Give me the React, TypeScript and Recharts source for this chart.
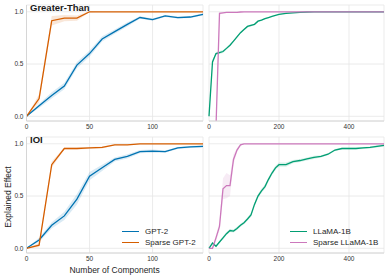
import React from "react";
import { ComposedChart, Line, Area, XAxis, YAxis, CartesianGrid } from "recharts";

// component counts
const gptSteps = [0, 10, 20, 30, 40, 50, 60, 70, 80, 90, 100, 110, 120, 130, 140];
const llamaSteps = [
  0, 10, 20, 30, 40, 50, 60, 70, 80, 90, 100, 110, 120, 130, 140, 150, 160, 170, 180, 190, 200,
  220, 240, 260, 280, 300, 320, 340, 360, 380, 400, 420, 440, 460, 480, 500,
];

// Greater-Than
const gtGpt2 = [0, 0.1, 0.2, 0.29, 0.49, 0.6, 0.74, 0.81, 0.88, 0.945, 0.925, 0.96, 0.945, 0.95, 0.975];
const gtGpt2Err = [0, 0.02, 0.03, 0.03, 0.03, 0.03, 0.025, 0.02, 0.02, 0.012, 0.01, 0.01, 0.01, 0.01, 0.01];
const gtSparseGpt2 = [0, 0.17, 0.915, 0.94, 0.94, 1, 1, 1, 1, 1, 1, 1, 1, 1, 1];
const gtSparseGpt2Err = [0, 0.04, 0.045, 0.03, 0.025, 0.005, 0, 0, 0, 0, 0, 0, 0, 0, 0];
const gtLlama = [
  0, 0.52, 0.6, 0.61, 0.62, 0.65, 0.68, 0.72, 0.76, 0.8, 0.83, 0.86, 0.87, 0.88, 0.91, 0.92, 0.935, 0.945, 0.955, 0.965, 0.975,
  0.985, 0.99, 0.995, 0.998, 1, 1, 1, 1, 1, 1, 1, 1, 1, 1, 1,
];
const gtLlamaErr = [
  0, 0.02, 0.015, 0.015, 0.015, 0.012, 0.012, 0.01, 0.01, 0.01, 0.01, 0.01, 0.01, 0.008, 0.008, 0.006, 0.006, 0.005, 0.005, 0.004, 0.004,
  0.003, 0.002, 0.002, 0, 0, 0, 0, 0, 0, 0, 0, 0, 0, 0, 0,
];
const gtSparseLlama = [
  -0.5, -0.4, -0.1, 0.985, 0.99, 0.995, 0.995, 0.995, 0.995, 0.998, 1, 1, 1, 1, 1, 1, 1, 1, 1, 1, 1,
  1, 1, 1, 1, 1, 1, 1, 1, 1, 1, 1, 1, 1, 1, 1,
];
const gtSparseLlamaErr = [
  0, 0.05, 0.06, 0.01, 0.005, 0.003, 0, 0, 0, 0, 0, 0, 0, 0, 0, 0, 0, 0, 0, 0, 0,
  0, 0, 0, 0, 0, 0, 0, 0, 0, 0, 0, 0, 0, 0, 0,
];

// IOI
const ioiGpt2 = [0, 0.08, 0.22, 0.31, 0.47, 0.69, 0.77, 0.85, 0.88, 0.925, 0.93, 0.925, 0.96, 0.97, 0.975];
const ioiGpt2Err = [0, 0.02, 0.03, 0.04, 0.05, 0.04, 0.03, 0.02, 0.02, 0.015, 0.015, 0.01, 0.01, 0.01, 0.01];
const ioiSparseGpt2 = [0, 0.03, 0.8, 0.955, 0.955, 0.96, 0.965, 0.99, 0.99, 1, 1, 1, 1, 1, 1];
const ioiSparseGpt2Err = [0, 0.02, 0.03, 0.01, 0.01, 0.01, 0.01, 0.005, 0.005, 0, 0, 0, 0, 0, 0];
const ioiLlama = [
  0, 0.05, 0.02, 0.06, 0.1, 0.14, 0.17, 0.165, 0.19, 0.22, 0.245, 0.28, 0.32, 0.42, 0.5, 0.55, 0.59, 0.66, 0.72, 0.77, 0.8,
  0.8, 0.83, 0.84, 0.855, 0.87, 0.88, 0.9, 0.94, 0.955, 0.955, 0.955, 0.96, 0.965, 0.975, 0.985,
];
const ioiLlamaErr = [
  0, 0.01, 0.01, 0.01, 0.015, 0.015, 0.015, 0.015, 0.015, 0.015, 0.015, 0.015, 0.02, 0.02, 0.02, 0.02, 0.02, 0.02, 0.02, 0.02, 0.02,
  0.02, 0.015, 0.015, 0.015, 0.015, 0.01, 0.01, 0.01, 0.01, 0.01, 0.01, 0.01, 0.01, 0.01, 0.01,
];
const ioiSparseLlama = [
  0, 0, 0.1, 0.21, 0.57, 0.6, 0.6, 0.85, 0.94, 0.99, 1, 1, 1, 1, 1, 1, 1, 1, 1, 1, 1,
  1, 1, 1, 1, 1, 1, 1, 1, 1, 1, 1, 1, 1, 1, 1,
];
const ioiSparseLlamaErr = [
  0, 0.01, 0.03, 0.04, 0.1, 0.12, 0.1, 0.05, 0.02, 0.01, 0, 0, 0, 0, 0, 0, 0, 0, 0, 0, 0,
  0, 0, 0, 0, 0, 0, 0, 0, 0, 0, 0, 0, 0, 0, 0,
];

const yTicks = [0, 0.5, 1];
const gptTicks = [0, 50, 100];
const llamaTicks = [0, 200, 400];

const BLUE = "#0173b2";
const ORANGE = "#d55e00";
const GREEN = "#029e73";
const PINK = "#cc78bc";
const FONT = "'Liberation Sans', Arial, sans-serif";

function rows(xs: number[], a: number[], aErr: number[], b: number[], bErr: number[]) {
  return xs.map((x, i) => ({
    x,
    a: a[i],
    aBand: [a[i] - aErr[i], a[i] + aErr[i]],
    b: b[i],
    bBand: [b[i] - bErr[i], b[i] + bErr[i]],
  }));
}

type PanelProps = {
  data: any[];
  left: number;
  top: number;
  width: number;
  xMax: number;
  xTicks: number[];
  colorA: string;
  colorB: string;
  showY: boolean;
  title: string;
};

function Panel({ data, left, top, width, xMax, xTicks, colorA, colorB, showY, title }: PanelProps) {
  const tick = { fontSize: 6.5, fill: "#333", fontFamily: FONT };
  return (
    <div style={{ position: "absolute", left, top, width, height: 135 }}>
      <ComposedChart
        width={width}
        height={135}
        data={data}
        margin={{ top: 5, right: showY ? 2 : 4, bottom: 0, left: showY ? 0 : 9 }}
      >
        <CartesianGrid stroke="#e6e6e6" strokeWidth={0.8} />
        <XAxis
          type="number"
          dataKey="x"
          domain={[0, xMax]}
          ticks={xTicks}
          height={14}
          tickSize={0}
          tickMargin={3}
          tick={tick}
          axisLine={{ stroke: "#d6d6d6" }}
        />
        <YAxis
          type="number"
          domain={[-0.045, 1.065]}
          allowDataOverflow
          ticks={yTicks}
          hide={!showY}
          width={26.5}
          tickSize={0}
          tickMargin={3}
          tick={tick}
          tickFormatter={(v: number) => v.toFixed(1)}
          axisLine={{ stroke: "#d6d6d6" }}
        />
        <Area dataKey="aBand" stroke="none" fill={colorA} fillOpacity={0.15} isAnimationActive={false} />
        <Area dataKey="bBand" stroke="none" fill={colorB} fillOpacity={0.15} isAnimationActive={false} />
        <Line dataKey="a" stroke={colorA} strokeWidth={1.3} dot={false} isAnimationActive={false} />
        <Line dataKey="b" stroke={colorB} strokeWidth={1.3} dot={false} isAnimationActive={false} />
      </ComposedChart>
      {title && (
        <div
          style={{
            position: "absolute",
            left: 30,
            top: 2,
            fontFamily: FONT,
            fontWeight: 700,
            fontSize: 9.5,
            color: "#1a1a1a",
            lineHeight: "11px",
          }}
        >
          {title}
        </div>
      )}
    </div>
  );
}

function LegendBox({ left, top, items }: { left: number; top: number; items: [string, string][] }) {
  return (
    <div style={{ position: "absolute", left, top, fontFamily: FONT, fontSize: 8, color: "#262626" }}>
      {items.map(([label, color]) => (
        <div key={label} style={{ display: "flex", alignItems: "center", height: 11.5 }}>
          <div style={{ width: 17, height: 0, borderTop: `1.3px solid ${color}`, marginRight: 6 }} />
          <span>{label}</span>
        </div>
      ))}
    </div>
  );
}

export default function App() {
  return (
    <div style={{ position: "absolute", left: 0, top: 0, width: 388, height: 279, background: "#fff", overflow: "hidden" }}>
      <Panel data={rows(gptSteps, gtGpt2, gtGpt2Err, gtSparseGpt2, gtSparseGpt2Err)} left={0} top={0} width={205} xMax={140} xTicks={gptTicks} colorA={BLUE} colorB={ORANGE} showY title="Greater-Than" />
      <Panel data={rows(llamaSteps, gtLlama, gtLlamaErr, gtSparseLlama, gtSparseLlamaErr)} left={200} top={0} width={188} xMax={500} xTicks={llamaTicks} colorA={GREEN} colorB={PINK} showY={false} title="" />
      <Panel data={rows(gptSteps, ioiGpt2, ioiGpt2Err, ioiSparseGpt2, ioiSparseGpt2Err)} left={0} top={132} width={205} xMax={140} xTicks={gptTicks} colorA={BLUE} colorB={ORANGE} showY title="IOI" />
      <Panel data={rows(llamaSteps, ioiLlama, ioiLlamaErr, ioiSparseLlama, ioiSparseLlamaErr)} left={200} top={132} width={188} xMax={500} xTicks={llamaTicks} colorA={GREEN} colorB={PINK} showY={false} title="" />

      <LegendBox left={122} top={225.5} items={[["GPT-2", BLUE], ["Sparse GPT-2", ORANGE]]} />
      <LegendBox left={290} top={225.5} items={[["LLaMA-1B", GREEN], ["Sparse LLaMA-1B", PINK]]} />

      <div style={{ position: "absolute", left: 114.6, top: 270, transform: "translate(-50%, -50%)", fontFamily: FONT, fontSize: 8.5, color: "#262626", whiteSpace: "nowrap" }}>
        Number of Components
      </div>
      <div style={{ position: "absolute", left: 8, top: 197, transform: "translate(-50%, -50%) rotate(-90deg)", fontFamily: FONT, fontSize: 8.5, color: "#262626", whiteSpace: "nowrap" }}>
        Explained Effect
      </div>
    </div>
  );
}
